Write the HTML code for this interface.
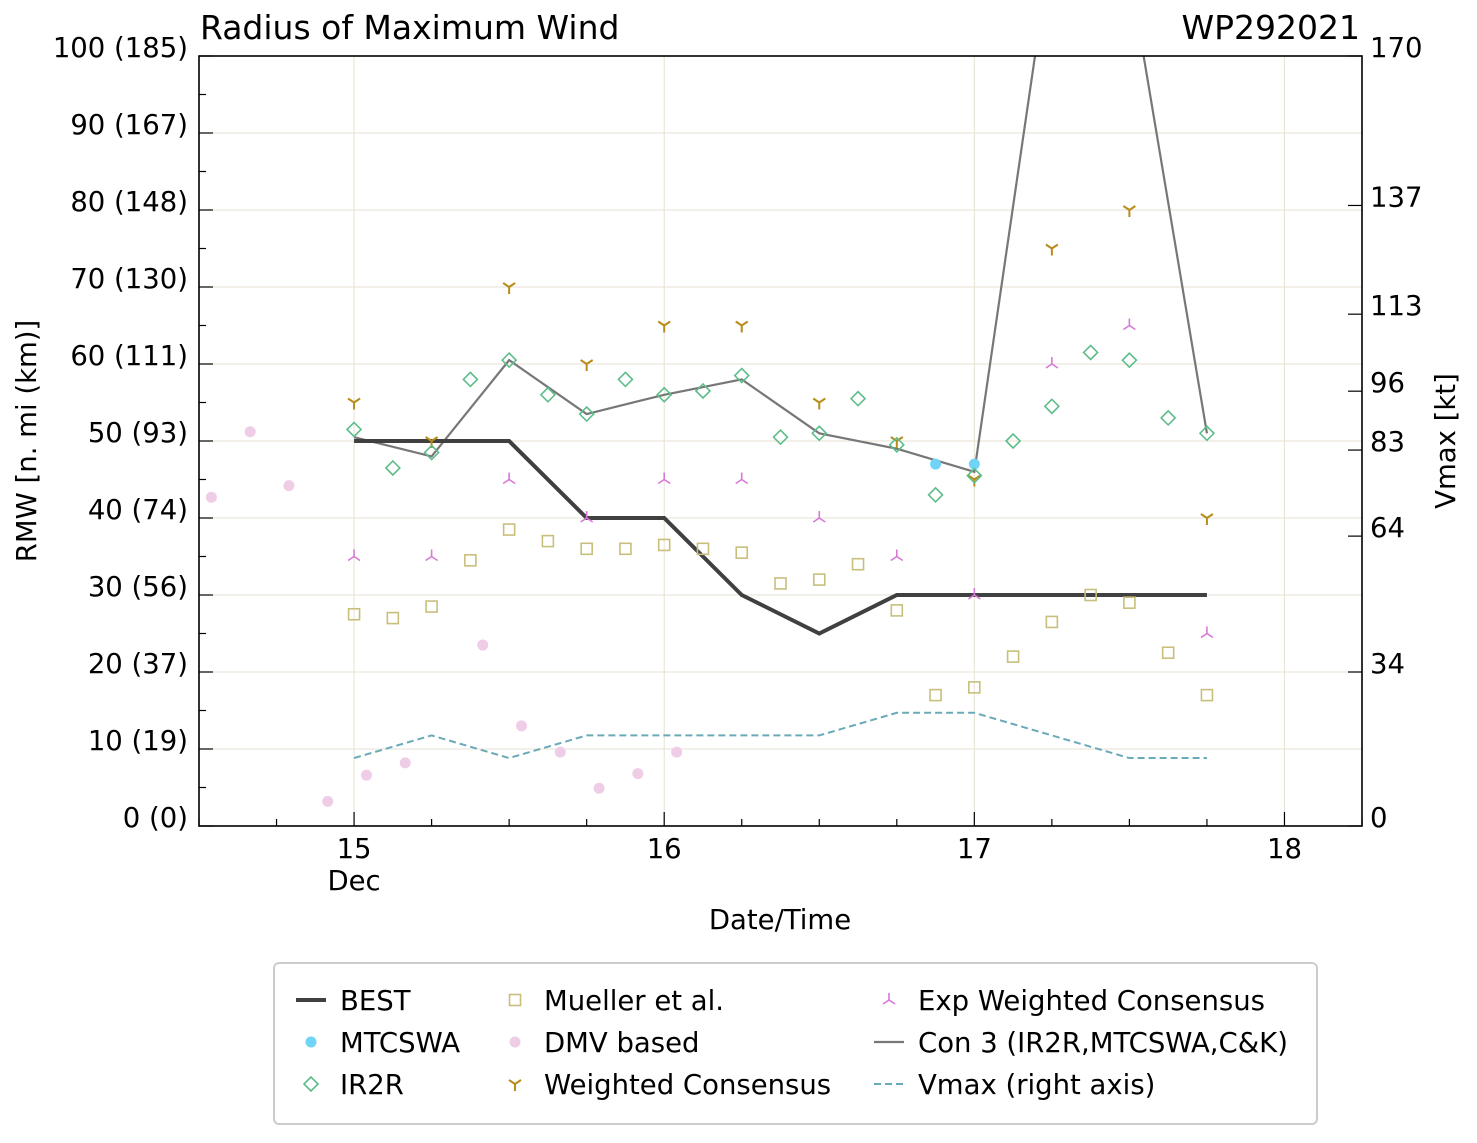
<!DOCTYPE html>
<html><head><meta charset="utf-8"><style>
body{margin:0;background:#fff}
svg text{font-family:"DejaVu Sans","Liberation Sans",sans-serif;fill:#000}
</style></head><body>
<svg id="c" width="1477" height="1138" xmlns="http://www.w3.org/2000/svg">
<rect width="1477" height="1138" fill="#fff"/>
<g id="grid"></g><g id="marks"></g><g id="axes"></g>
<text x="200" y="39" font-size="33">Radius of Maximum Wind</text>
<text x="1360" y="39" font-size="33" text-anchor="end">WP292021</text>
<text x="780" y="929" font-size="27.5" text-anchor="middle">Date/Time</text>
<text transform="translate(36,441) rotate(-90)" font-size="27.5" text-anchor="middle">RMW [n. mi (km)]</text>
<text transform="translate(1455,441) rotate(-90)" font-size="27.5" text-anchor="middle">Vmax [kt]</text>
<g id="legend"></g>
</svg>
<script>
const bestT=[15,15.25,15.5,15.75,16,16.25,16.5,16.75,17,17.25,17.5,17.75];
const bestV=[50,50,50,40,40,30,25,30,30,30,30,30];
const vmaxV=[15,20,15,20,20,20,20,25,25,20,15,15];
const conT=[15,15.25,15.5,15.75,16,16.25,16.5,16.75,17,17.25,17.5,17.75];
const conV=[50.5,48,60.5,53.5,56,58,51,49,46,115,111,51];
const ir2rT=[15,15.125,15.25,15.375,15.5,15.625,15.75,15.875,16,16.125,16.25,16.375,16.5,16.625,16.75,16.875,17,17.125,17.25,17.375,17.5,17.625,17.75];
const ir2rV=[51.5,46.5,48.5,58,60.5,56,53.5,58,56,56.5,58.5,50.5,51,55.5,49.5,43,45.5,50,54.5,61.5,60.5,53,51];
const muelV=[27.5,27,28.5,34.5,38.5,37,36,36,36.5,36,35.5,31.5,32,34,28,17,18,22,26.5,30,29,22.5,17];
const mtcT=[16.875,17];
const mtcV=[47,47];
const dmvT=[14.54,14.665,14.79,14.915,15.04,15.165,15.415,15.54,15.665,15.79,15.915,16.04];
const dmvV=[42.7,51.2,44.2,3.2,6.6,8.2,23.5,13,9.6,4.9,6.8,9.6];
const wcV=[55,50,70,60,65,65,55,50,45,75,80,40];
const ewcV=[35,35,45,40,45,45,40,35,30,60,65,25];
const yTicks=["0 (0)","10 (19)","20 (37)","30 (56)","40 (74)","50 (93)","60 (111)","70 (130)","80 (148)","90 (167)","100 (185)"];
const vTicks=[0,34,64,83,96,113,137,170];
const xTicks=[15,16,17,18];

const X0=199,X1=1362,Y0=826,Y1=56;
const xs=t=>X0+(t-14.5)/(18.25-14.5)*(X1-X0);
const ys=v=>Y0-v/100*(Y0-Y1);
const yv=v=>Y0-v/170*(Y0-Y1);
const NS="http://www.w3.org/2000/svg";
function mk(p,tag,at){const e=document.createElementNS(NS,tag);for(const k in at)e.setAttribute(k,at[k]);p.appendChild(e);return e;}
const G=document.getElementById('grid'),M=document.getElementById('marks'),A=document.getElementById('axes'),L=document.getElementById('legend');
const gc="#e6e2d2";
for(let i=0;i<yTicks.length;i++){const y=ys(i*10);const l=mk(G,'line',{x1:X0,x2:X1,y1:y,y2:y,stroke:gc,'stroke-width':1});}
xTicks.forEach(t=>{const x=xs(t);const l=mk(G,'line',{x1:x,x2:x,y1:Y1,y2:Y0,stroke:gc,'stroke-width':1});});
const clip=mk(M,'clipPath',{id:'pc'});mk(clip,'rect',{x:X0,y:Y1,width:X1-X0,height:Y0-Y1});
const MG=mk(M,'g',{'clip-path':'url(#pc)'});
function line(T,V,f,at,name){const p=mk(MG,'polyline',Object.assign({points:T.map((t,i)=>xs(t)+','+f(V[i])).join(' '),fill:'none'},at));}
line(bestT,vmaxV,yv,{stroke:'#6aaab8','stroke-width':2,'stroke-dasharray':'7,4'},'vmax-line');
line(conT,conV,ys,{stroke:'#777','stroke-width':2.2},'con3-line');
line(bestT,bestV,ys,{stroke:'#404040','stroke-width':4},'best-line');
function diamond(g,x,y,c){return mk(g,'path',{d:`M${x-7} ${y}L${x} ${y-7}L${x+7} ${y}L${x} ${y+7}Z`,fill:'none',stroke:c,'stroke-width':1.6});}
function square(g,x,y,c){return mk(g,'rect',{x:x-5.5,y:y-5.5,width:11,height:11,fill:'none',stroke:c,'stroke-width':1.6});}
function triDown(g,x,y,c){return mk(g,'path',{d:`M${x} ${y}V${y+7}M${x} ${y}L${x-6} ${y-4}M${x} ${y}L${x+6} ${y-4}`,fill:'none',stroke:c,'stroke-width':2});}
function triUp(g,x,y,c){return mk(g,'path',{d:`M${x} ${y}V${y-7}M${x} ${y}L${x-6} ${y+4}M${x} ${y}L${x+6} ${y+4}`,fill:'none',stroke:c,'stroke-width':1.6});}
dmvT.forEach((t,i)=>{const e=mk(MG,'circle',{cx:xs(t),cy:ys(dmvV[i]),r:5.5,fill:'#efcde6'});});
ir2rT.forEach((t,i)=>{const e=square(MG,xs(t),ys(muelV[i]),'#c8bf7c');});
bestT.forEach((t,i)=>{const e=triUp(MG,xs(t),ys(ewcV[i]),'#d878d8');});
bestT.forEach((t,i)=>{const e=triDown(MG,xs(t),ys(wcV[i]),'#b88c18');});
mtcT.forEach((t,i)=>{const e=mk(MG,'circle',{cx:xs(t),cy:ys(mtcV[i]),r:5.5,fill:'#6fd4f6'});});
ir2rT.forEach((t,i)=>{const e=diamond(MG,xs(t),ys(ir2rV[i]),'#5dbd8a');});
const fr=mk(A,'rect',{x:X0,y:Y1,width:X1-X0,height:Y0-Y1,fill:'none',stroke:'#000','stroke-width':1.6});
for(let v=0;v<=100;v+=5){const y=ys(v);mk(A,'line',{x1:X0,x2:X0+(v%10?7:14),y1:y,y2:y,stroke:'#000','stroke-width':1.2});}
yTicks.forEach((s,i)=>{const t=mk(A,'text',{x:188,y:ys(i*10)+1,'font-size':27.5,'text-anchor':'end'});t.textContent=s;});
vTicks.forEach(v=>{const y=yv(v);mk(A,'line',{x1:X1-14,x2:X1,y1:y,y2:y,stroke:'#000','stroke-width':1.2});const t=mk(A,'text',{x:1370,y:y+1,'font-size':27.5});t.textContent=v;});
for(let t=14.5;t<=18.25;t+=0.25){const x=xs(t);const maj=Number.isInteger(t);mk(A,'line',{x1:x,x2:x,y1:Y0,y2:Y0-(maj?14:7),stroke:'#000','stroke-width':1.2});}
xTicks.forEach(d=>{const t=mk(A,'text',{x:xs(d),y:858,'font-size':27.5,'text-anchor':'middle'});t.textContent=d;});
{const t=mk(A,'text',{x:xs(15),y:890,'font-size':27.5,'text-anchor':'middle'});t.textContent='Dec';}
mk(L,'rect',{x:274,y:963,width:1043,height:161,rx:5,fill:'#fff',stroke:'#ccc','stroke-width':2});
const leg=[[296,1000,'BEST','best'],[296,1042,'MTCSWA','mtc'],[296,1084,'IR2R','ir2r'],[500,1000,'Mueller et al.','mu'],[500,1042,'DMV based','dmv'],[500,1084,'Weighted Consensus','wc'],[874,1000,'Exp Weighted Consensus','ewc'],[874,1042,'Con 3 (IR2R,MTCSWA,C&K)','con'],[874,1084,'Vmax (right axis)','vm']];
leg.forEach(([x,y,s,k])=>{const g=mk(L,'g',{});const cx=x+15;
if(k=='best')mk(g,'line',{x1:x,x2:x+30,y1:y,y2:y,stroke:'#404040','stroke-width':4});
if(k=='con')mk(g,'line',{x1:x,x2:x+30,y1:y,y2:y,stroke:'#777','stroke-width':2.2});
if(k=='vm')mk(g,'line',{x1:x,x2:x+30,y1:y,y2:y,stroke:'#6aaab8','stroke-width':2,'stroke-dasharray':'7,4'});
if(k=='mtc')mk(g,'circle',{cx:cx,cy:y,r:5.5,fill:'#6fd4f6'});
if(k=='dmv')mk(g,'circle',{cx:cx,cy:y,r:5.5,fill:'#efcde6'});
if(k=='ir2r')diamond(g,cx,y,'#5dbd8a');
if(k=='mu')square(g,cx,y,'#c8bf7c');
if(k=='wc')triDown(g,cx,y,'#b88c18');
if(k=='ewc')triUp(g,cx,y,'#d878d8');
const t=mk(g,'text',{x:x+44,y:y+10,'font-size':27.5});t.textContent=s;});
</script>
</body></html>
